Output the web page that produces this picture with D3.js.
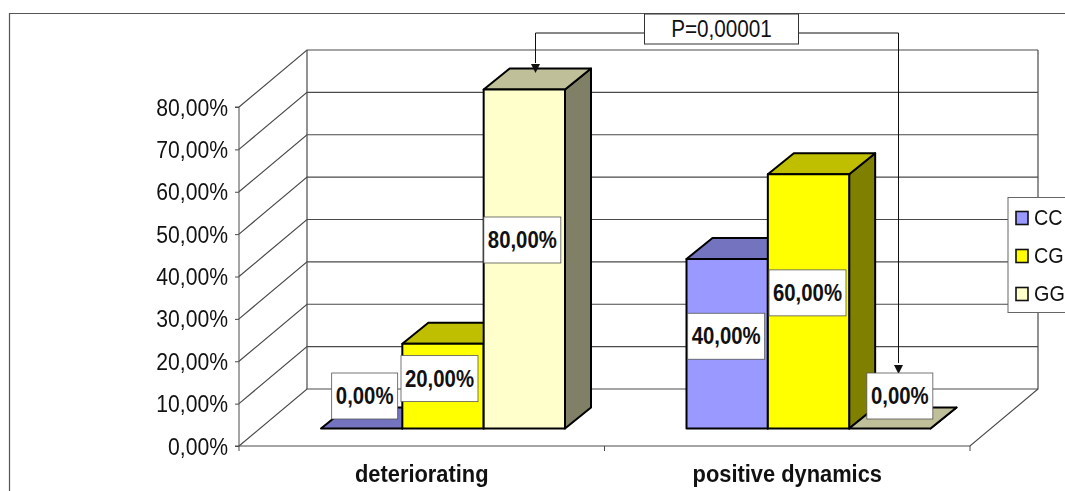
<!DOCTYPE html>
<html>
<head>
<meta charset="utf-8">
<script src="https://cdnjs.cloudflare.com/ajax/libs/d3/7.8.5/d3.min.js"></script>
<style>
    html, body { margin: 0; padding: 0; background: #fff; overflow: hidden; }
    svg { filter: blur(0.35px); }
    text { font-family: "Liberation Sans", Arial, sans-serif; fill: #111; }
</style>
</head>
<body>
<svg id="chart" width="1065" height="491"></svg>
<script>
const categories = ["deteriorating", "positive dynamics"];
const seriesNames = ["CC", "CG", "GG"];
const ccValues = [0, 40];
const cgValues = [20, 60];
const ggValues = [80, 0];
const yTicks = [0, 10, 20, 30, 40, 50, 60, 70, 80];
const pValueText = "P=0,00001";

const seriesValues = [ccValues, cgValues, ggValues];
const colors = {
    CC: { front: "#9999ff", top: "#7373bf", side: "#4d4d80" },
    CG: { front: "#ffff00", top: "#bfbf00", side: "#808000" },
    GG: { front: "#ffffcc", top: "#bfbf99", side: "#808066" }
};

// 3d look: how far the back wall and the bars are shifted
const wallDx = 68, wallDy = -57;
const barShiftX = 21, barShiftY = -17.5;
const depthX = 26, depthY = -21;

const svg = d3.select("#chart");
const comma = d3.formatLocale({ decimal: ",", thousands: " ", grouping: [3], currency: ["", ""] });
const pct = v => comma.format(".2f")(v) + "%";

// the original text is tall and narrow, so squeeze it horizontally
function squeeze(sel, factor) {
    sel.each(function () {
        d3.select(this)
            .attr("textLength", this.getComputedTextLength() * factor)
            .attr("lengthAdjust", "spacingAndGlyphs");
    });
}

const x = d3.scaleBand().domain(categories).range([239, 970]);
const inner = d3.scaleBand().domain(seriesNames).range([61, 305]);
const y = d3.scaleLinear().domain([0, 80]).range([446, 107]);

const lineColor = "#4a4a4a";

// outer frame
svg.append("path")
    .attr("d", "M9.5,491V13.5H1065")
    .attr("fill", "none").attr("stroke", "#555").attr("stroke-width", 1.2);

// walls and gridlines
const walls = svg.append("g").attr("fill", "none").attr("stroke", lineColor).attr("stroke-width", 1.2);
const [x0, x1] = x.range();
walls.selectAll(".grid").data(yTicks).enter().append("path")
    .attr("class", "grid")
    .attr("d", d => `M${x0},${y(d)}L${x0 + wallDx},${y(d) + wallDy}H${x1 + wallDx}`);
walls.append("path")
    .attr("d", `M${x0 + wallDx},${y(0) + wallDy}V${y(80) + wallDy}`);
walls.append("path")
    .attr("d", `M${x1 + wallDx},${y(80) + wallDy}V${y(0) + wallDy}L${x1},${y(0)}H${x0}`);

// y axis
const yAxis = d3.axisLeft(y).tickValues(yTicks).tickFormat(pct).tickSize(4).tickPadding(7);
const yGroup = svg.append("g").attr("transform", `translate(${x0},0)`).call(yAxis);
yGroup.selectAll("text").style("font-size", "23px").attr("dy", ".35em").call(squeeze, 0.92);
yGroup.selectAll("line,path").attr("stroke", lineColor);
yGroup.select(".domain").attr("d", `M-4,${y(80)}H0V${y(0)}H-4`);

// x axis, ticks sit on the category edges
const xAxis = d3.axisBottom(x).tickSize(0).tickPadding(20);
const xGroup = svg.append("g").attr("transform", `translate(0,${y(0)})`).call(xAxis);
xGroup.select(".domain").remove();
xGroup.selectAll("text")
    .style("font-size", "23px").style("font-weight", "700").call(squeeze, 0.95);
xGroup.selectAll(".edge").data([x0, x0 + x.step(), x1]).enter().append("line")
    .attr("class", "edge")
    .attr("x1", d => d).attr("x2", d => d).attr("y1", 0).attr("y2", 5)
    .attr("stroke", lineColor);

// p value bracket
const bracket = svg.append("g");
const arrowLeft = 535.5, arrowRight = 898.5, bracketY = 33;
bracket.append("path")
    .attr("d", `M${arrowRight},363V${bracketY}H${arrowLeft}V63`)
    .attr("fill", "none").attr("stroke", "#111").attr("stroke-width", 1);

// legend
const legend = svg.append("g");
legend.append("rect")
    .attr("x", 1008).attr("y", 197.5).attr("width", 80).attr("height", 115)
    .attr("fill", "#fff").attr("stroke", "#666");
const legendItem = legend.selectAll(".item").data(seriesNames).enter().append("g")
    .attr("class", "item")
    .attr("transform", (d, i) => `translate(1016,${211.5 + i * 38})`);
legendItem.append("rect")
    .attr("width", 12).attr("height", 13)
    .attr("fill", d => colors[d].front).attr("stroke", "#111").attr("stroke-width", 1.6);
legendItem.append("text")
    .attr("x", 18).attr("y", 13)
    .style("font-size", "22px")
    .text(d => d)
    .call(squeeze, 0.9);

// bars
const bars = [];
categories.forEach((cat, c) => {
    seriesNames.forEach((name, s) => {
        bars.push({ cat, name, value: seriesValues[s][c] });
    });
});
const barLeft = d => x(d.cat) + inner(d.name) + barShiftX;
const barTop = d => y(d.value) + barShiftY;
const barBottom = y(0) + barShiftY;
const w = inner.bandwidth();

const bar = svg.selectAll(".bar").data(bars).enter().append("g")
    .attr("class", "bar")
    .attr("stroke", "#000").attr("stroke-width", 2).attr("stroke-linejoin", "round");
bar.append("path")
    .attr("fill", d => colors[d.name].side)
    .attr("d", d => `M${barLeft(d) + w},${barTop(d)}l${depthX},${depthY}V${barBottom + depthY}l${-depthX},${-depthY}Z`);
bar.append("path")
    .attr("fill", d => colors[d.name].top)
    .attr("d", d => `M${barLeft(d)},${barTop(d)}l${depthX},${depthY}h${w}l${-depthX},${-depthY}Z`);
bar.append("rect")
    .attr("x", barLeft).attr("y", barTop)
    .attr("width", w).attr("height", d => barBottom - barTop(d))
    .attr("fill", d => colors[d.name].front);

// arrow heads go over the bars
bracket.raise();
bracket.selectAll(".head").data([[arrowLeft, 73], [arrowRight, 374]]).enter().append("path")
    .attr("class", "head")
    .attr("d", d => `M${d[0] - 4.5},${d[1] - 9}h9L${d[0]},${d[1]}Z`)
    .attr("fill", "#111");

const pBox = bracket.append("g").attr("transform", "translate(644.5,14)");
pBox.append("rect").attr("width", 154).attr("height", 30)
    .attr("fill", "#fff").attr("stroke", "#333");
pBox.append("text").attr("x", 77).attr("y", 23).attr("text-anchor", "middle")
    .style("font-size", "23px").text(pValueText).call(squeeze, 0.9);

// data labels were dragged by hand in the original, so each has its own nudge
const labelNudge = {
    "deteriorating|CC": [3, -32.5], "deteriorating|CG": [-3.5, -7.5], "deteriorating|GG": [-2, -19],
    "positive dynamics|CC": [-1, -7.5], "positive dynamics|CG": [-1, -8.5], "positive dynamics|GG": [10, -32.5]
};
const nudge = d => labelNudge[d.cat + "|" + d.name];
const label = svg.selectAll(".label").data(bars).enter().append("g")
    .attr("class", "label")
    .attr("transform", d => {
        const n = nudge(d);
        return `translate(${barLeft(d) + w / 2 + n[0]},${(barTop(d) + barBottom) / 2 + n[1]})`;
    });
label.append("rect")
    .attr("x", d => d.value === 0 ? -33 : -38.5).attr("y", -23)
    .attr("width", d => d.value === 0 ? 66 : 77).attr("height", 46)
    .attr("fill", "#fff").attr("stroke", "#555").attr("stroke-width", 0.8);
label.append("text")
    .attr("text-anchor", "middle").attr("y", 8)
    .style("font-size", "23px").style("font-weight", "700")
    .text(d => pct(d.value))
    .call(squeeze, 0.885);
</script>
</body>
</html>
